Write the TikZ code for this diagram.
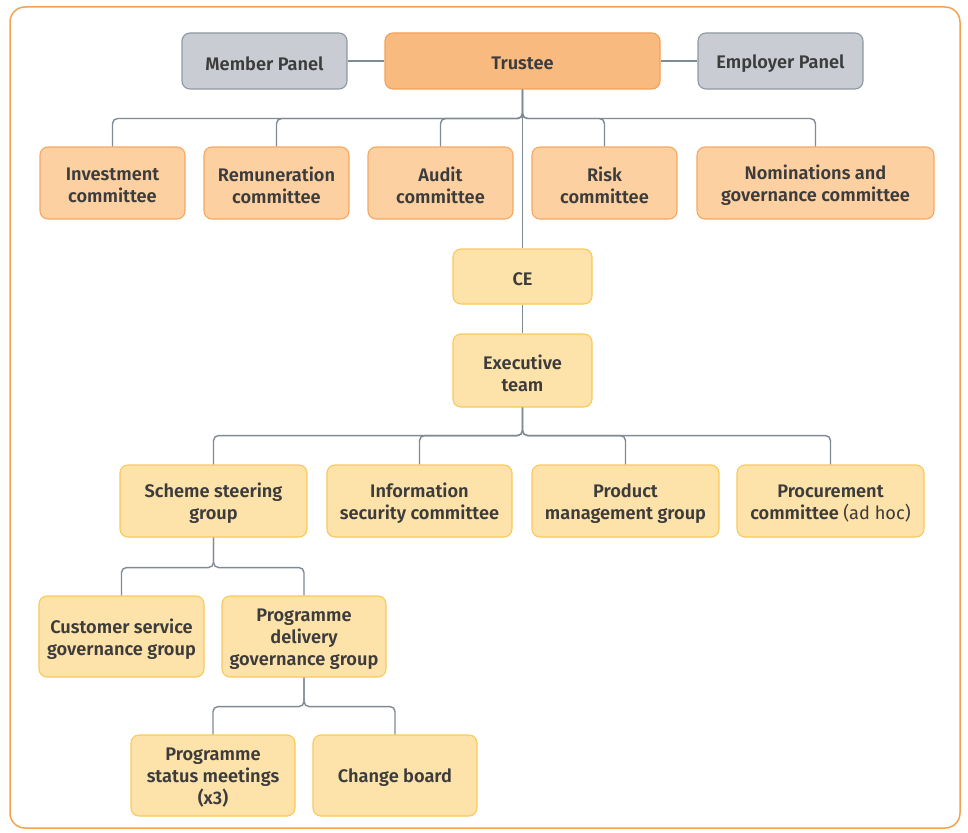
\documentclass[tikz,border=0pt]{standalone}
\usepackage{fontspec}
\setmainfont{Fira Sans}[BoldFont={Fira Sans SemiBold}]
\begin{document}
\begin{tikzpicture}[x=1pt,y=-1pt]
\definecolor{frameor}{HTML}{F5A24E}
\definecolor{trfill}{HTML}{F9BA7F}
\definecolor{trdraw}{HTML}{F4A156}
\definecolor{cofill}{HTML}{FCD0A1}
\definecolor{codraw}{HTML}{F5A863}
\definecolor{yefill}{HTML}{FDE2A9}
\definecolor{yedraw}{HTML}{F9C95A}
\definecolor{grfill}{HTML}{C9CDD3}
\definecolor{grdraw}{HTML}{8E98A2}
\definecolor{linec}{HTML}{7E8A94}
\definecolor{txt}{HTML}{3C3C3C}
\tikzset{
  base/.style={rectangle, rounded corners=8, line width=1.1, inner sep=0pt},
  lbl/.style={align=center, inner sep=0pt,
    font=\fontsize{18.2}{22}\selectfont\bfseries, text=txt},
  gbox/.style={base, fill=grfill, draw=grdraw},
  tbox/.style={base, fill=trfill, draw=trdraw},
  cbox/.style={base, fill=cofill, draw=codraw},
  ybox/.style={base, fill=yefill, draw=yedraw},
  conn/.style={draw=linec, line width=1.4, rounded corners=5}
}
\newcommand\mybox[7]{%
  \node[#1, minimum width=#5, minimum height=#6] (#2) at (#3,#4) {};
  \node[lbl] (#2-t) at ([yshift=-2.5pt]#2.center) {#7};}
\useasboundingbox (0,0) rectangle (968,832);
\draw[frameor, line width=1.5, rounded corners=15] (10,7) rectangle (960,828);

% top
\mybox{gbox}{member}{264.5}{61}{165}{56}{Member Panel}
\mybox{tbox}{trustee}{522.5}{61}{275}{56}{Trustee}
\mybox{gbox}{employer}{780.5}{61}{165}{56}{Employer Panel}

% committees
\mybox{cbox}{inv}{112.5}{183}{145}{72}{Investment\\committee}
\mybox{cbox}{rem}{276.5}{183}{145}{72}{Remuneration\\committee}
\mybox{cbox}{audit}{440.5}{183}{145}{72}{Audit\\committee}
\mybox{cbox}{risk}{604.5}{183}{145}{72}{Risk\\committee}
\mybox{cbox}{nom}{815.5}{183}{237}{72}{Nominations and\\governance committee}

% CE and exec
\mybox{ybox}{ce}{522.5}{276.5}{139}{55}{CE}
\mybox{ybox}{exec}{522.5}{370.5}{139}{73}{Executive\\team}

% level 3
\mybox{ybox}{scheme}{213.5}{501}{187}{72}{Scheme steering\\group}
\mybox{ybox}{info}{419.5}{501}{185}{72}{Information\\security committee}
\mybox{ybox}{product}{625.5}{501}{187}{72}{Product\\management group}
\mybox{ybox}{procure}{830.5}{501}{187}{72}{Procurement\\committee {\mdseries(ad hoc)}}

% level 4
\mybox{ybox}{cust}{121.5}{636.5}{165}{81}{Customer service\\governance group}
\mybox{ybox}{progdel}{304}{636.5}{164}{81}{Programme\\delivery\\governance group}

% level 5
\mybox{ybox}{status}{213}{775.5}{164}{81}{Programme\\status meetings\\{(x3)}}
\mybox{ybox}{change}{395}{775.5}{164}{81}{Change board}

% connectors
\draw[conn] (member.east) -- (trustee.west);
\draw[conn] (trustee.east) -- (employer.west);
\foreach \c in {inv,rem,audit,risk,nom}
  \draw[conn] (trustee.south) -- ++(0,29) -| (\c.north);
\draw[conn] (trustee.south) -- (ce.north);
\draw[conn] (ce.south) -- (exec.north);
\foreach \c in {scheme,info,product,procure}
  \draw[conn] (exec.south) -- ++(0,28) -| (\c.north);
\foreach \c in {cust,progdel}
  \draw[conn] (scheme.south) -- ++(0,30) -| (\c.north);
\foreach \c in {status,change}
  \draw[conn] (progdel.south) -- ++(0,29) -| (\c.north);
\end{tikzpicture}
\end{document}
